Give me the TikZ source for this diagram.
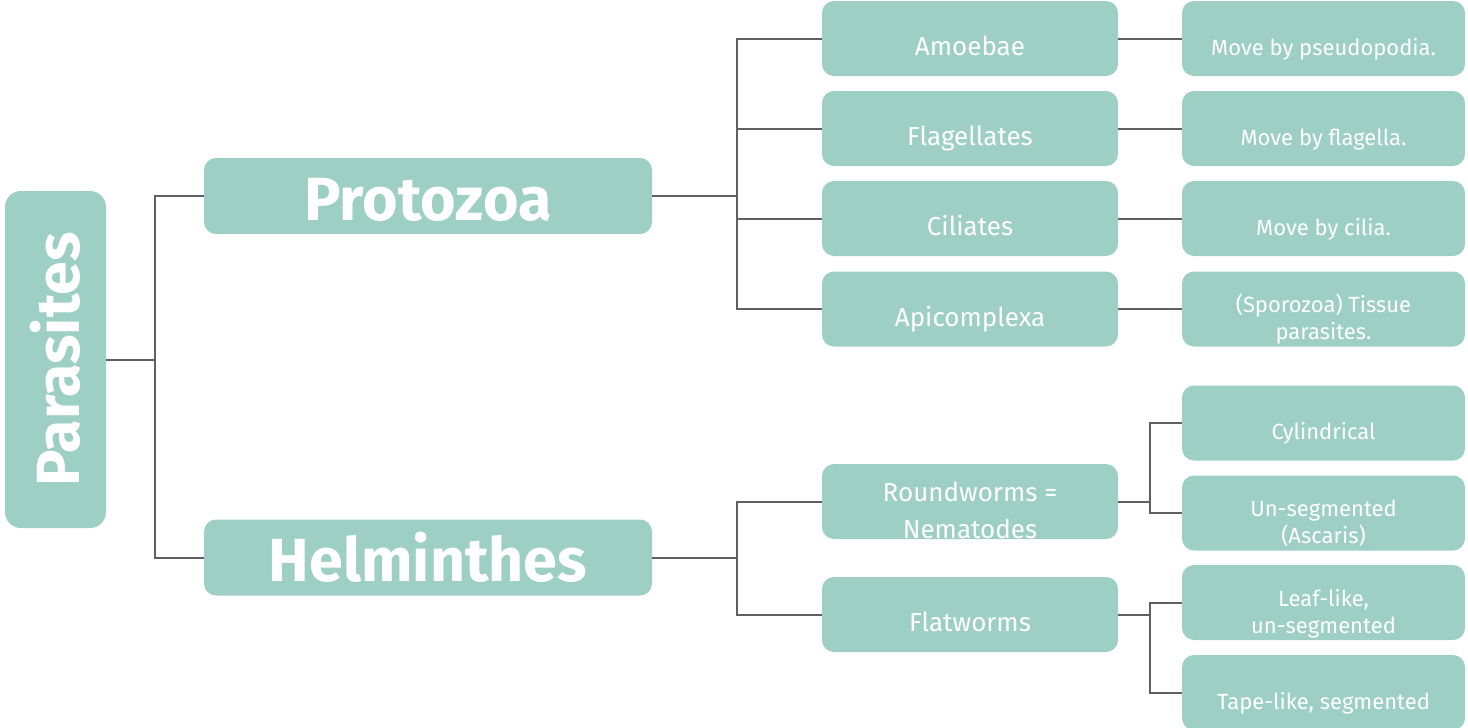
\documentclass[tikz,border=0pt]{standalone}
\usepackage{fontspec}
\setmainfont{Fira Sans}
\usepackage{graphicx}

\begin{document}
\begin{tikzpicture}[x=1pt, y=-1pt,
    box/.style={rectangle, rounded corners=12pt, fill=fillTeal, text=white, inner sep=0pt},
    rootbox/.style={box, rounded corners=16pt, minimum width=101pt, minimum height=337pt,
        font=\bfseries\fontsize{61}{70}\selectfont},
    groupbox/.style={box, minimum width=448pt, minimum height=76pt,
        font=\bfseries\fontsize{61}{70}\selectfont, text height=56pt, text depth=8pt},
    typebox/.style={box, minimum width=296pt, minimum height=75pt,
        font=\fontsize{26}{37}\selectfont, text height=40pt, text depth=6pt},
    typeboxtwo/.style={typebox, align=center, text height=74pt, text depth=1pt},
    notebox/.style={box, minimum width=283pt, minimum height=75pt,
        font=\fontsize{22}{27}\selectfont, text height=38pt, text depth=5pt},
    noteboxtwo/.style={notebox, align=center, text height=65pt, text depth=4pt},
    link/.style={draw=lineGrey, line width=2pt}]

    \definecolor{fillTeal}{HTML}{9ECFC4}
    \definecolor{lineGrey}{HTML}{606060}

    \useasboundingbox (0,0) rectangle (1468,728);

    % Root
    \node[rootbox] (parasites) at (55.5,359.5) {\rotatebox{90}{Parasites}};

    % Main groups
    \node[groupbox] (protozoa) at (428,196) {Protozoa};
    \node[groupbox] (helminthes) at (428,557.5) {Helminthes};

    % Protozoa types
    \node[typebox] (amoebae) at (970,38.5) {Amoebae};
    \node[typebox] (flagellates) at (970,128.5) {Flagellates};
    \node[typebox] (ciliates) at (970,218.5) {Ciliates};
    \node[typebox] (apicomplexa) at (970,309) {Apicomplexa};

    % Helminth types
    \node[typeboxtwo] (roundworms) at (970,501.5) {Roundworms =\\Nematodes};
    \node[typebox] (flatworms) at (970,614.5) {Flatworms};

    % Notes on the protozoa
    \node[notebox] (pseudo) at (1323.5,38.5) {Move by pseudopodia.};
    \node[notebox] (flagella) at (1323.5,128.5) {Move by flagella.};
    \node[notebox] (cilia) at (1323.5,218.5) {Move by cilia.};
    \node[noteboxtwo] (tissue) at (1323.5,309) {(Sporozoa) Tissue\\parasites.};

    % Notes on the helminths
    \node[notebox] (cylindrical) at (1323.5,423) {Cylindrical};
    \node[noteboxtwo] (unsegmented) at (1323.5,513) {Un-segmented\\(Ascaris)};
    \node[noteboxtwo] (leaflike) at (1323.5,602.5) {Leaf-like,\\un-segmented};
    \node[notebox] (tapelike) at (1323.5,692.5) {Tape-like, segmented};

    % Junctions
    \coordinate (jRoot) at (155,359.5);
    \coordinate (jProto) at (737,196);
    \coordinate (jHelm) at (737,557.5);
    \coordinate (jRound) at (1150,501.5);
    \coordinate (jFlat) at (1150,614.5);

    % Connectors
    \draw[link] (parasites.east) -- (jRoot);
    \draw[link] (jRoot) |- (protozoa.west);
    \draw[link] (jRoot) |- (helminthes.west);

    \draw[link] (protozoa.east) -- (jProto);
    \foreach \n in {amoebae,flagellates,ciliates,apicomplexa}
        \draw[link] (jProto) |- (\n.west);

    \draw[link] (helminthes.east) -- (jHelm);
    \foreach \n in {roundworms,flatworms}
        \draw[link] (jHelm) |- (\n.west);

    \foreach \a/\b in {amoebae/pseudo,flagellates/flagella,ciliates/cilia,apicomplexa/tissue}
        \draw[link] (\a.east) -- (\b.west);

    \draw[link] (roundworms.east) -- (jRound);
    \foreach \n in {cylindrical,unsegmented}
        \draw[link] (jRound) |- (\n.west);

    \draw[link] (flatworms.east) -- (jFlat);
    \foreach \n in {leaflike,tapelike}
        \draw[link] (jFlat) |- (\n.west);

\end{tikzpicture}
\end{document}
